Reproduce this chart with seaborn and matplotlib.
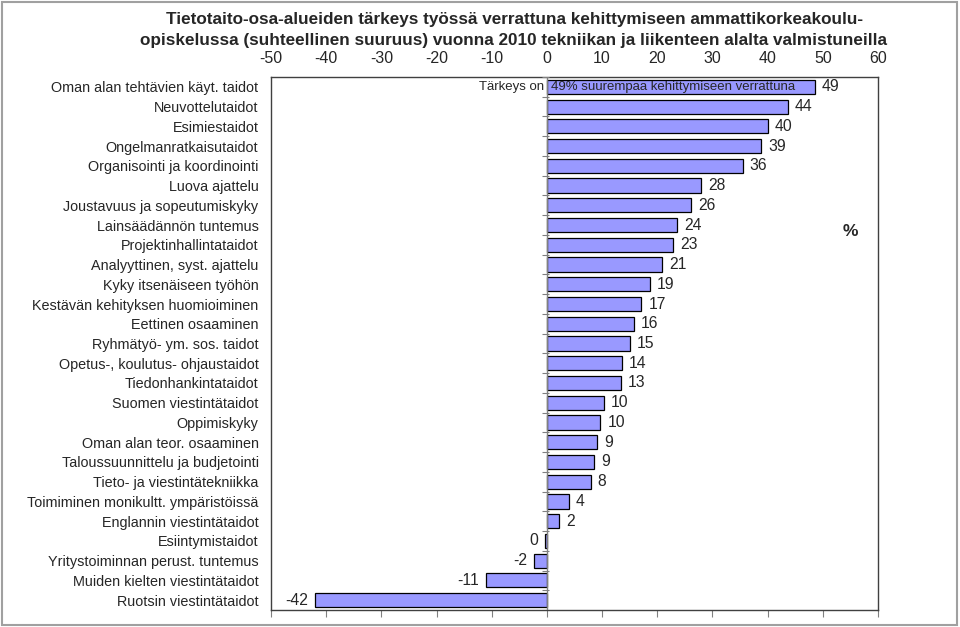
import matplotlib
matplotlib.use("Agg")
import matplotlib.pyplot as plt
import matplotlib.patches as mpatches
import seaborn as sns
import pandas as pd

categories = [
    "Oman alan tehtävien käyt. taidot",
    "Neuvottelutaidot",
    "Esimiestaidot",
    "Ongelmanratkaisutaidot",
    "Organisointi ja koordinointi",
    "Luova ajattelu",
    "Joustavuus ja sopeutumiskyky",
    "Lainsäädännön tuntemus",
    "Projektinhallintataidot",
    "Analyyttinen, syst. ajattelu",
    "Kyky itsenäiseen työhön",
    "Kestävän kehityksen huomioiminen",
    "Eettinen osaaminen",
    "Ryhmätyö- ym. sos. taidot",
    "Opetus-, koulutus- ohjaustaidot",
    "Tiedonhankintataidot",
    "Suomen viestintätaidot",
    "Oppimiskyky",
    "Oman alan teor. osaaminen",
    "Taloussuunnittelu ja budjetointi",
    "Tieto- ja viestintätekniikka",
    "Toimiminen monikultt. ympäristöissä",
    "Englannin viestintätaidot",
    "Esiintymistaidot",
    "Yritystoiminnan perust. tuntemus",
    "Muiden kielten viestintätaidot",
    "Ruotsin viestintätaidot",
]
values = [48.6, 43.6, 40.0, 38.8, 35.5, 28.0, 26.2, 23.6, 22.9, 20.9,
          18.6, 17.1, 15.8, 15.1, 13.6, 13.4, 10.3, 9.7, 9.1, 8.6,
          7.9, 4.0, 2.2, -0.3, -2.3, -11.0, -42.0]
value_labels = ["49", "44", "40", "39", "36", "28", "26", "24", "23", "21",
                "19", "17", "16", "15", "14", "13", "10", "10", "9", "9",
                "8", "4", "2", "0", "-2", "-11", "-42"]
x_ticks = [-50, -40, -30, -20, -10, 0, 10, 20, 30, 40, 50, 60]
title = ("Tietotaito-osa-alueiden tärkeys työssä verrattuna kehittymiseen ammattikorkeakoulu-\n"
         "opiskelussa (suhteellinen suuruus) vuonna 2010 tekniikan ja liikenteen alalta valmistuneilla")

df = pd.DataFrame({"kategoria": categories, "arvo": values})

sns.set_style("white")
plt.rcParams["font.family"] = ["Liberation Sans", "DejaVu Sans"]

W, H = 960, 627
fig = plt.figure(figsize=(W / 100, H / 100), dpi=100)
ax = fig.add_axes([271 / W, 1 - 610 / H, (878 - 271) / W, (610 - 77) / H])

sns.barplot(data=df, x="arvo", y="kategoria", orient="h", color="#9999FF",
            saturation=1, edgecolor="black", linewidth=0.9, width=0.72, ax=ax)

ax.set_xlim(-50, 60)
ax.set_ylim(len(categories) - 0.5, -0.5)
ax.set_xticks(x_ticks)
ax.set_xticklabels([str(t) for t in x_ticks])
ax.set_xlabel("")
ax.set_ylabel("")

ax.tick_params(axis="x", bottom=True, top=False, labelbottom=False, labeltop=True,
               length=5, width=0.8, color="#808080", direction="out", pad=3,
               labelsize=11.5)
ax.tick_params(axis="y", left=False, length=0, pad=9, labelsize=10.4)

for s in ax.spines.values():
    s.set_color("#404040")
    s.set_linewidth(1.0)

# zero axis line with category-boundary ticks
ax.axvline(0, color="#808080", lw=1.0, zorder=3)
for k in range(len(categories) + 1):
    ax.plot([-0.8, 0.3], [k - 0.5, k - 0.5], color="#808080", lw=0.8, zorder=3,
            solid_capstyle="butt")

# value labels
for patch, lab, v in zip(ax.patches, value_labels, values):
    y = patch.get_y() + patch.get_height() / 2
    if v > 0:
        ax.annotate(lab, (v, y), xytext=(7, 0), textcoords="offset pixels",
                    ha="left", va="center", fontsize=11.3)
    else:
        ax.annotate(lab, (v, y), xytext=(-7, 0), textcoords="offset pixels",
                    ha="right", va="center", fontsize=11.3)

# annotation on first bar
ax.annotate("Tärkeys on", (0, 0), xytext=(-3, 0), textcoords="offset pixels",
            ha="right", va="center", fontsize=9.5)
ax.annotate("49% suurempaa kehittymiseen verrattuna", (0, 0), xytext=(4, 0),
            textcoords="offset pixels", ha="left", va="center", fontsize=9.5)

fig.text(850 / W, 1 - 231 / H, "%", ha="center", va="center", fontsize=12.5,
         fontweight="bold")

fig.text(514 / W, 1 - 12 / H, title, ha="center", va="top", fontsize=12.3,
         fontweight="bold", linespacing=1.5)

fig.add_artist(mpatches.Rectangle((2 / W, 2 / H), (W - 5) / W, (H - 4) / H,
                                  transform=fig.transFigure, fill=False,
                                  edgecolor="#a0a0a0", lw=1.5))

fig.savefig("out.png", dpi=100)
